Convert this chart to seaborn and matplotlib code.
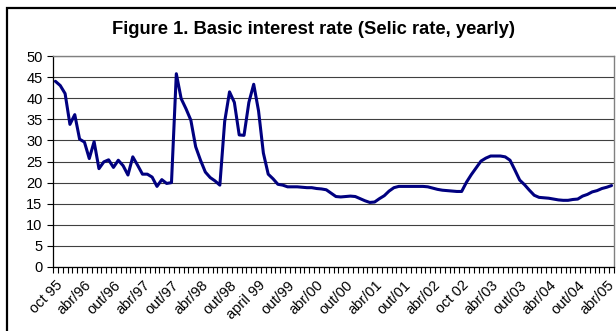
import matplotlib
matplotlib.use('Agg')
import matplotlib.pyplot as plt
import seaborn as sns
import pandas as pd
import numpy as np
from matplotlib.patches import Rectangle
from matplotlib.transforms import ScaledTranslation

# Monthly Selic rate, Oct 1995 - May 2005
rate = [44.0, 43.0, 41.1, 33.8, 36.1, 30.3, 29.6, 25.7, 29.7, 23.3,
        24.9, 25.4, 23.6, 25.3, 24.0, 21.8, 26.1, 24.1, 22.0, 22.0,
        21.3, 19.1, 20.7, 19.8, 20.0, 45.8, 39.9, 37.5, 34.8, 28.5,
        25.3, 22.5, 21.2, 20.4, 19.4, 34.5, 41.5, 39.0, 31.3, 31.2,
        39.0, 43.3, 37.0, 27.0, 22.0, 20.9, 19.6, 19.4, 19.0, 19.0,
        19.0, 18.9, 18.8, 18.8, 18.6, 18.5, 18.3, 17.5, 16.7, 16.6,
        16.7, 16.8, 16.7, 16.2, 15.7, 15.3, 15.4, 16.2, 16.9, 18.0,
        18.8, 19.1, 19.1, 19.1, 19.1, 19.1, 19.1, 19.0, 18.7, 18.4,
        18.2, 18.1, 18.0, 17.9, 17.9, 20.1, 21.9, 23.5, 25.1, 25.8,
        26.3, 26.3, 26.3, 26.1, 25.3, 23.0, 20.6, 19.5, 18.2, 17.0,
        16.5, 16.4, 16.3, 16.1, 15.9, 15.8, 15.8, 16.0, 16.1, 16.8,
        17.2, 17.8, 18.1, 18.6, 18.9, 19.3]

tick_labels = ['oct 95', 'abr/96', 'out/96', 'abr/97', 'out/97', 'abr/98', 'out/98',
               'april 99', 'out/99', 'abr/00', 'out/00', 'abr/01', 'out/01', 'abr/02',
               'oct 02', 'abr/03', 'out/03', 'abr/04', 'out/04', 'abr/05']

y_ticks = [0, 5, 10, 15, 20, 25, 30, 35, 40, 45, 50]

df = pd.DataFrame({'month': np.arange(len(rate)), 'rate': rate})

sns.set_style('white')
plt.rcParams['font.family'] = ['Liberation Sans', 'DejaVu Sans']
plt.rcParams['text.color'] = 'black'

fig = plt.figure(figsize=(6.16, 3.31), dpi=100)
ax = fig.add_axes([53 / 616, 1 - 267 / 331, (614 - 53) / 616, (267 - 56) / 331])

sns.lineplot(data=df, x='month', y='rate', color='#000080', linewidth=2.2, ax=ax)

ax.set_xlim(-0.5, len(rate) - 0.5)
ax.set_ylim(0, 50)
ax.set_yticks(y_ticks)
ax.set_yticklabels([str(v) for v in y_ticks], fontsize=10.5)
ax.yaxis.grid(True, color='#404040', linewidth=0.8)
ax.set_axisbelow(True)

ax.set_xticks(np.arange(0, len(rate), 6)[:len(tick_labels)])
ax.set_xticklabels(tick_labels, rotation=45, ha='right', va='top',
                   rotation_mode='anchor', fontsize=10.5)
shift = ScaledTranslation(-4 / 100, 0, fig.dpi_scale_trans)
for lbl in ax.get_xticklabels():
    lbl.set_transform(lbl.get_transform() + shift)
ax.set_xticks(np.arange(-0.5, len(rate), 1), minor=True)
ax.tick_params(axis='x', which='major', length=0, pad=8, labelcolor='black')
ax.tick_params(axis='x', which='minor', length=4, width=0.8, color='black', direction='out')
ax.tick_params(axis='y', length=4, width=0.8, color='black', direction='out', pad=3.5,
               labelcolor='black')
ax.xaxis.set_ticks_position('bottom')
ax.yaxis.set_ticks_position('left')

ax.set_xlabel('')
ax.set_ylabel('')
for side in ['left', 'bottom']:
    ax.spines[side].set_color('black')
    ax.spines[side].set_linewidth(0.9)
for side in ['top', 'right']:
    ax.spines[side].set_color('#808080')
    ax.spines[side].set_linewidth(1.0)

fig.text(314 / 616, 1 - 30 / 331, 'Figure 1. Basic interest rate (Selic rate, yearly)',
         ha='center', va='center', fontsize=13.2, fontweight='bold', color='black')

# chart-area frame (cut off at right and bottom)
fig.patches.append(Rectangle((7 / 616, -0.2), 1.1, 1.2 - 8 / 331, transform=fig.transFigure,
                             fill=False, edgecolor='black', linewidth=1.6, zorder=10))

fig.savefig('out.png', dpi=100)
